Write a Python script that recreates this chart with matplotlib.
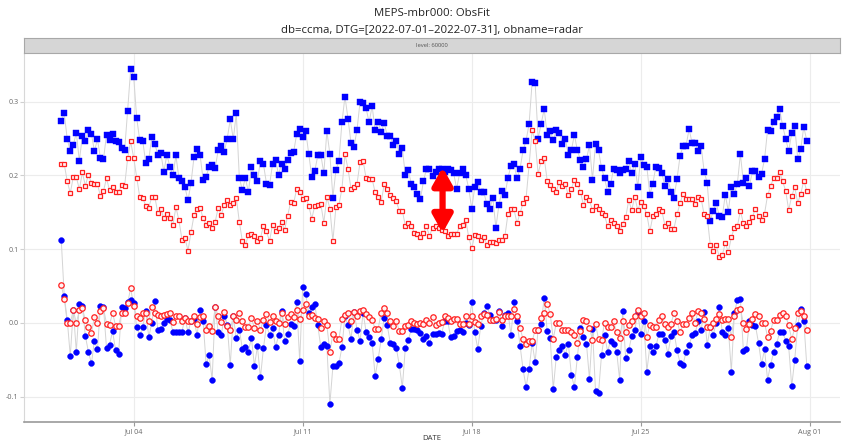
import matplotlib
matplotlib.use("Agg")
import matplotlib.pyplot as plt
import matplotlib.dates as mdates
import pandas as pd

plt.rcParams["font.family"] = ["Open Sans", "DejaVu Sans"]
plt.rcParams["axes.unicode_minus"] = False

TITLE = "MEPS-mbr000: ObsFit"
SUBTITLE = "db=ccma, DTG=[2022-07-01\u20132022-07-31], obname=radar"
STRIP = "level: 60000"
XLABEL = "DATE"
START = "2022-07-01 00:00"
STEP = "3h"

# standard deviation of departures, first guess (blue) and analysis (red)
stdv_fg = [
    0.274, 0.284, 0.249, 0.233, 0.241, 0.258, 0.220, 0.253, 0.247, 0.262,
    0.256, 0.233, 0.249, 0.223, 0.222, 0.255, 0.248, 0.256, 0.246, 0.245,
    0.237, 0.234, 0.288, 0.344, 0.334, 0.278, 0.248, 0.247, 0.217, 0.222,
    0.252, 0.243, 0.228, 0.230, 0.205, 0.228, 0.212, 0.200, 0.227, 0.196,
    0.193, 0.184, 0.166, 0.190, 0.225, 0.236, 0.228, 0.194, 0.198, 0.212,
    0.214, 0.210, 0.234, 0.240, 0.232, 0.250, 0.276, 0.249, 0.284, 0.197,
    0.180, 0.197, 0.177, 0.211, 0.201, 0.192, 0.220, 0.215, 0.189, 0.187,
    0.215, 0.221, 0.201, 0.216, 0.209, 0.221, 0.231, 0.232, 0.256, 0.263,
    0.252, 0.260, 0.229, 0.198, 0.206, 0.227, 0.228, 0.203, 0.260, 0.229,
    0.170, 0.207, 0.220, 0.272, 0.307, 0.277, 0.244, 0.239, 0.262, 0.300,
    0.298, 0.291, 0.272, 0.294, 0.261, 0.272, 0.259, 0.271, 0.254, 0.253,
    0.241, 0.247, 0.229, 0.237, 0.200, 0.207, 0.188, 0.184, 0.175, 0.168,
    0.192, 0.209, 0.209,
    0.199, 0.204, 0.209, 0.209, 0.205, 0.209, 0.207, 0.203, 0.182, 0.203,
    0.209, 0.201, 0.182, 0.155, 0.184, 0.191, 0.177, 0.177, 0.161, 0.155,
    0.169, 0.129, 0.160, 0.179, 0.173, 0.197, 0.213, 0.215, 0.196, 0.209,
    0.234, 0.247, 0.270, 0.326, 0.325, 0.250, 0.270, 0.290, 0.255, 0.260,
    0.248, 0.261, 0.258, 0.243, 0.250, 0.228, 0.234, 0.255, 0.234, 0.221,
    0.211, 0.222, 0.241, 0.194, 0.243, 0.234, 0.210, 0.196, 0.178, 0.188,
    0.209, 0.207, 0.203,
    0.207, 0.209, 0.220, 0.203, 0.216, 0.184, 0.225, 0.214, 0.212, 0.174,
    0.189, 0.212, 0.210, 0.203, 0.185, 0.195, 0.178, 0.170, 0.195, 0.226,
    0.240, 0.240, 0.263, 0.244, 0.244, 0.233, 0.240, 0.205, 0.190, 0.138,
    0.152, 0.162, 0.145, 0.144, 0.174, 0.151, 0.184, 0.175, 0.189, 0.229,
    0.190, 0.196, 0.186, 0.206, 0.206, 0.198, 0.202, 0.222, 0.261, 0.260,
    0.272, 0.279, 0.290, 0.267, 0.250, 0.233, 0.257, 0.267, 0.222, 0.236,
    0.266, 0.247,
]

stdv_an = [
    0.215, 0.215, 0.192, 0.176, 0.198, 0.198, 0.181, 0.204, 0.186, 0.201,
    0.190, 0.188, 0.188, 0.172, 0.179, 0.196, 0.180, 0.184, 0.177, 0.177,
    0.187, 0.186, 0.223, 0.246, 0.224, 0.197, 0.171, 0.169, 0.159, 0.156,
    0.171, 0.171, 0.149, 0.154, 0.142, 0.148, 0.142, 0.133, 0.157, 0.139,
    0.113, 0.115, 0.098, 0.123, 0.146, 0.155, 0.156, 0.142, 0.133, 0.135,
    0.129, 0.137, 0.156, 0.146, 0.160, 0.166, 0.160, 0.162, 0.170, 0.137,
    0.111, 0.105, 0.119, 0.121, 0.118, 0.111, 0.115, 0.132, 0.124, 0.111,
    0.133, 0.124, 0.129, 0.137, 0.126, 0.145, 0.164, 0.162, 0.182, 0.177,
    0.168, 0.170, 0.159, 0.141, 0.159, 0.160, 0.161, 0.136, 0.171, 0.155,
    0.111, 0.157, 0.160, 0.182, 0.229, 0.209, 0.182, 0.184, 0.189, 0.218,
    0.220, 0.196, 0.195, 0.195, 0.177, 0.171, 0.164, 0.188, 0.182, 0.173,
    0.170, 0.165, 0.152, 0.152, 0.132, 0.136, 0.132, 0.122, 0.121, 0.116,
    0.122, 0.131, 0.118,
    0.129, 0.131, 0.129, 0.126, 0.124, 0.118, 0.121, 0.121, 0.121, 0.131,
    0.133, 0.140, 0.116, 0.101, 0.119, 0.118, 0.112, 0.117, 0.106, 0.110,
    0.110, 0.109, 0.112, 0.112, 0.118, 0.148, 0.154, 0.154, 0.135, 0.149,
    0.162, 0.169, 0.214, 0.261, 0.247, 0.202, 0.220, 0.224, 0.193, 0.187,
    0.182, 0.178, 0.191, 0.186, 0.188, 0.173, 0.182, 0.194, 0.189, 0.178,
    0.160, 0.171, 0.166, 0.153, 0.158, 0.154, 0.149, 0.146, 0.131, 0.140,
    0.135, 0.132, 0.124,
    0.134, 0.143, 0.166, 0.153, 0.171, 0.153, 0.164, 0.158, 0.147, 0.124,
    0.145, 0.147, 0.154, 0.152, 0.132, 0.135, 0.128, 0.128, 0.147, 0.162,
    0.175, 0.168, 0.168, 0.168, 0.161, 0.171, 0.168, 0.147, 0.145, 0.106,
    0.097, 0.105, 0.090, 0.092, 0.108, 0.096, 0.116, 0.129, 0.131, 0.152,
    0.135, 0.132, 0.137, 0.144, 0.155, 0.145, 0.139, 0.148, 0.173, 0.185,
    0.197, 0.197, 0.205, 0.192, 0.179, 0.153, 0.172, 0.184, 0.163, 0.175,
    0.193, 0.179,
]

# mean departures (bias), first guess (blue) and analysis (red)
bias_fg = [
    0.113, 0.037, 0.004, -0.045, 0.018, -0.039, 0.026, 0.023, -0.018, -0.039,
    -0.055, -0.024, -0.036, 0.023, 0.021, -0.034, -0.030, -0.011, -0.037, -0.042,
    0.021, 0.020, 0.029, 0.031, 0.027, -0.006, -0.017, -0.006, 0.016, -0.019,
    0.000, 0.030, -0.009, -0.008, 0.000, 0.005, 0.004, -0.012, -0.013, -0.013,
    -0.012, 0.007, -0.013, 0.003, 0.005, -0.017, 0.017, 0.003, -0.056, -0.044,
    -0.077, 0.021, -0.012, -0.017, 0.009, -0.003, -0.057, 0.009, -0.021, -0.009,
    -0.035, -0.033, -0.039, -0.020, -0.058, -0.032, -0.074, -0.034, -0.003, -0.016,
    -0.007, -0.033, -0.017, 0.016, -0.025, -0.015, -0.001, -0.004, 0.028, -0.052,
    0.049, 0.039, 0.014, 0.021, 0.026, -0.003, -0.033, -0.028, -0.032, -0.110,
    -0.059, -0.058, -0.055, -0.033, 0.009, -0.003, -0.022, 0.015, -0.009, -0.025,
    0.014, -0.012, -0.019, -0.027, -0.072, -0.049, -0.022, 0.007, -0.003, -0.027,
    -0.028, -0.034, -0.057, -0.088, -0.034, -0.023, -0.008, -0.008, -0.009, -0.014,
    -0.022, -0.018, -0.027,
    -0.015, -0.015, -0.014, -0.015, 0.002, 0.003, -0.019, -0.018, -0.011, -0.009,
    -0.012, 0.000, -0.003, 0.028, -0.013, -0.035, -0.004, 0.014, 0.023, 0.011,
    0.004, 0.004, 0.016, -0.004, 0.011, 0.014, -0.016, 0.028, 0.002, -0.031,
    -0.063, -0.087, -0.063, -0.027, -0.053, -0.009, -0.001, 0.034, -0.011, -0.021,
    -0.090, -0.046, -0.037, -0.032, -0.043, -0.028, -0.070, -0.087, -0.046, -0.007,
    -0.019, -0.028, -0.076, -0.008, -0.092, -0.095, -0.043, -0.016, -0.039, -0.024,
    -0.029, -0.039,
    -0.077, 0.016, -0.048, -0.037, -0.018, -0.010, 0.013, -0.015, 0.002, -0.066,
    -0.032, -0.039, -0.032, -0.015, -0.015, -0.023, -0.042, -0.018, -0.012, -0.037,
    -0.054, -0.057, -0.039, -0.030, -0.017, -0.014, 0.002, -0.009, 0.015, -0.030,
    -0.006, -0.016, 0.000, 0.022, -0.012, -0.016, -0.007, -0.066, 0.013, 0.031,
    0.032, -0.038, -0.036, 0.002, -0.003, -0.004, -0.027, -0.056, -0.036, -0.077,
    -0.057, -0.040, -0.028, -0.013, -0.013, -0.024, -0.032, -0.086, -0.050, -0.003,
    0.019, 0.003, -0.058,
]

bias_an = [
    0.051, 0.033, 0.000, 0.000, 0.017, 0.000, 0.017, 0.020, 0.004, -0.005,
    -0.014, 0.008, 0.000, 0.016, 0.020, -0.001, -0.003, 0.014, -0.004, -0.004,
    0.014, 0.013, 0.027, 0.047, 0.023, 0.009, 0.007, 0.013, 0.013, 0.003,
    0.021, 0.014, 0.011, 0.009, 0.011, 0.012, 0.013, 0.001, 0.009, 0.009,
    0.002, 0.006, 0.003, 0.003, 0.010, -0.001, 0.008, 0.009, -0.009, -0.004,
    -0.011, 0.022, 0.009, 0.001, 0.015, -0.004, -0.009, 0.009, 0.004, 0.014,
    0.002, -0.005, -0.006, 0.007, -0.007, 0.002, -0.009, 0.004, 0.012, 0.001,
    0.009, 0.003, 0.000, 0.013, -0.001, 0.008, 0.012, 0.008, 0.018, 0.005,
    0.018, 0.026, 0.009, 0.011, 0.007, 0.005, -0.007, 0.003, -0.003, -0.039,
    -0.015, -0.022, -0.022, 0.005, 0.011, 0.013, 0.003, 0.015, 0.009, 0.016,
    0.018, 0.012, 0.008, 0.004, -0.008, -0.008, 0.014, 0.020, 0.014, 0.003,
    -0.004, 0.003, -0.011, -0.011, -0.004, -0.003, 0.002, 0.000, -0.001, 0.000,
    -0.001, 0.004, 0.000,
    0.008, -0.003, 0.000, 0.001, 0.009, 0.006, 0.003, 0.005, 0.005, -0.001,
    -0.001, 0.009, -0.001, 0.009, 0.001, -0.001, 0.009, 0.012, 0.011, 0.004,
    0.004, 0.005, 0.015, 0.004, 0.009, 0.010, 0.009, 0.019, 0.009, -0.007,
    -0.022, -0.029, -0.025, -0.025, -0.010, -0.010, 0.007, 0.013, 0.026, 0.012,
    -0.022, 0.000, 0.000, -0.009, -0.009, -0.009, -0.012, -0.016, -0.027, -0.011,
    0.004, 0.003, -0.007, -0.023, -0.001, -0.022, -0.023, 0.000, -0.005, -0.005,
    0.002, -0.013,
    -0.020, 0.003, -0.012, -0.003, 0.002, 0.009, 0.018, 0.009, 0.014, -0.019,
    -0.003, -0.005, -0.005, 0.004, 0.009, -0.001, -0.005, -0.001, 0.013, 0.003,
    -0.013, -0.001, -0.001, 0.007, 0.014, 0.000, 0.016, 0.013, 0.005, -0.006,
    -0.006, 0.000, 0.005, 0.012, 0.004, 0.005, 0.005, -0.019, 0.009, 0.018,
    0.019, 0.000, -0.008, -0.001, 0.005, 0.012, 0.010, 0.000, 0.000, -0.019,
    -0.011, 0.004, 0.004, 0.011, 0.014, 0.009, -0.003, -0.022, -0.007, 0.014,
    0.016, 0.009, -0.009,
]

# spread between the two stdv curves highlighted with an arrow
arrow_time = "2022-07-16 19:00"
arrow_top = 0.211
arrow_bottom = 0.122

x_ticks = ["2022-07-04", "2022-07-11", "2022-07-18", "2022-07-25", "2022-08-01"]
x_limits = ("2022-06-29 11:00", "2022-08-02 06:00")
y_ticks = [-0.1, 0.0, 0.1, 0.2, 0.3]
y_limits = (-0.134, 0.366)


def times_for(values):
    return pd.date_range(START, periods=len(values), freq=STEP)


W, H = 842, 444
fig = plt.figure(figsize=(W / 100, H / 100), dpi=100)

# panel and strip positions in pixels (left, top, right, bottom)
pl, pt, pr, pb = 24, 53, 840, 421.7
strip_top = 38
ax = fig.add_axes([pl / W, 1 - pb / H, (pr - pl) / W, (pb - pt) / H])
sax = fig.add_axes([pl / W, 1 - pt / H, (pr - pl) / W, (pt - strip_top) / H])

line_kw = dict(color="#d4d4d4", lw=0.7, zorder=1)
ax.plot(times_for(stdv_fg), stdv_fg, **line_kw)
ax.plot(times_for(stdv_an), stdv_an, **line_kw)
ax.plot(times_for(bias_fg), bias_fg, **line_kw)
ax.plot(times_for(bias_an), bias_an, **line_kw)

ax.plot(times_for(stdv_fg), stdv_fg, ls="none", marker="s", ms=4.0,
        mfc="#0000ff", mec="#0000ff", mew=0.3, zorder=3)
ax.plot(times_for(bias_fg), bias_fg, ls="none", marker="o", ms=4.2,
        mfc="#0000ff", mec="#0000ff", mew=0.3, zorder=3)
ax.plot(times_for(stdv_an), stdv_an, ls="none", marker="s", ms=3.5,
        mfc="#fff2f2", mec="#ff2020", mew=0.9, zorder=4)
ax.plot(times_for(bias_an), bias_an, ls="none", marker="o", ms=3.9,
        mfc="#fff2f2", mec="#ff2020", mew=0.9, zorder=4)

ax.annotate("", xy=(pd.Timestamp(arrow_time), arrow_bottom),
            xytext=(pd.Timestamp(arrow_time), arrow_top),
            arrowprops=dict(arrowstyle="<|-|>,head_length=0.75,head_width=0.42",
                            color="#ff0000", lw=4.5, mutation_scale=14,
                            shrinkA=0, shrinkB=0),
            zorder=6)

ax.set_xlim(pd.Timestamp(x_limits[0]), pd.Timestamp(x_limits[1]))
ax.set_ylim(*y_limits)
ax.set_xticks([pd.Timestamp(t) for t in x_ticks])
ax.xaxis.set_major_formatter(mdates.DateFormatter("%b %d"))
ax.set_yticks(y_ticks)
ax.set_yticklabels([f"{v:.1f}" for v in y_ticks])

ax.grid(True, color="#ececec", lw=0.8, zorder=0)
ax.set_axisbelow(True)
for side in ("top", "right"):
    ax.spines[side].set_visible(False)
ax.spines["left"].set_color("#d8d8d8")
ax.spines["left"].set_linewidth(0.8)
ax.spines["bottom"].set_color("#9a9a9a")
ax.spines["bottom"].set_linewidth(1.2)
ax.tick_params(axis="x", length=3, width=0.8, color="#9a9a9a", pad=2,
               labelsize=5.2, labelcolor="#6a6a6a")
ax.tick_params(axis="y", length=3, width=0.8, color="#d0d0d0", pad=1,
               labelsize=5.2, labelcolor="#6a6a6a")

sax.set_facecolor("#d6d6d6")
sax.set_xticks([])
sax.set_yticks([])
for s in sax.spines.values():
    s.set_color("#a8a8a8")
    s.set_linewidth(0.8)
sax.text(0.5, 0.5, STRIP, ha="center", va="center", fontsize=4.2,
         color="#555555", transform=sax.transAxes)

cx = (pl + pr) / 2 / W
fig.text(cx, 1 - 14 / H, TITLE, ha="center", va="center", fontsize=8.2,
         color="#222222")
fig.text(cx, 1 - 30 / H, SUBTITLE, ha="center", va="center", fontsize=8.2,
         color="#222222")
fig.text(cx, 1 - 438.5 / H, XLABEL, ha="center", va="center", fontsize=5.6,
         color="#333333")

fig.savefig("out.png", dpi=100)
